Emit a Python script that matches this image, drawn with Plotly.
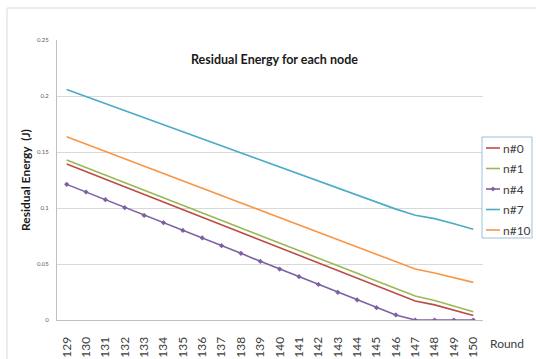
import plotly.graph_objects as go

rounds = [str(r) for r in range(129, 151)]

n0 = [0.1393, 0.1325, 0.1257, 0.1189, 0.1121, 0.1053, 0.0985, 0.0917, 0.0849, 0.0781, 0.0713,
      0.0645, 0.0577, 0.0509, 0.0441, 0.0373, 0.0305, 0.0237, 0.0170, 0.0135, 0.0090, 0.0040]
n1 = [0.1429, 0.1362, 0.1294, 0.1227, 0.1159, 0.1092, 0.1024, 0.0957, 0.0889, 0.0822, 0.0754,
      0.0687, 0.0619, 0.0552, 0.0484, 0.0417, 0.0349, 0.0282, 0.0214, 0.0175, 0.0125, 0.0074]
n4 = [0.1211, 0.1143, 0.1074, 0.1003, 0.0934, 0.0869, 0.0800, 0.0733, 0.0664, 0.0595, 0.0524,
      0.0455, 0.0387, 0.0318, 0.0247, 0.0179, 0.0110, 0.0045, 0.0, 0.0, 0.0, 0.0]
n7 = [0.2057, 0.1994, 0.1931, 0.1868, 0.1806, 0.1743, 0.1680, 0.1617, 0.1555, 0.1492, 0.1429,
      0.1366, 0.1304, 0.1241, 0.1178, 0.1115, 0.1052, 0.0990, 0.0935, 0.0905, 0.0860, 0.0810]
n10 = [0.1637, 0.1571, 0.1506, 0.1440, 0.1374, 0.1309, 0.1243, 0.1177, 0.1112, 0.1046, 0.0980,
       0.0915, 0.0849, 0.0783, 0.0718, 0.0652, 0.0586, 0.0521, 0.0455, 0.0420, 0.0380, 0.0336]

y_ticks = [0, 0.05, 0.1, 0.15, 0.2, 0.25]
y_tick_labels = ["0", "0.05", "0.1", "0.15", "0.2", "0.25"]

series_names = ["n#0", "n#1", "n#4", "n#7", "n#10"]
series_values = [n0, n1, n4, n7, n10]
series_colors = ["#BE4B48", "#98B954", "#7D60A0", "#4BACC6", "#F79646"]
series_markers = [False, False, True, False, False]

# plot area in pixels (for converting legend layout to paper coords)
L, R, T, B = 57, 483, 40, 320
def px(x):
    return (x - L) / (R - L)
def py(y):
    return (B - y) / (B - T)

fig = go.Figure()
for name, vals, color, mk in zip(series_names, series_values, series_colors, series_markers):
    fig.add_trace(go.Scatter(
        x=rounds, y=vals, name=name,
        mode="lines+markers" if mk else "lines",
        line=dict(color=color, width=1.6),
        marker=dict(symbol="diamond", size=4, color=color),
        showlegend=False,
    ))

annotations = [
    dict(text="<b>Residual Energy for each node</b>", xref="paper", yref="paper",
         x=px(274), y=py(60), xanchor="center", yanchor="middle", showarrow=False,
         font=dict(size=12.5, color="#1a1a1a")),
    dict(text="<b>Residual Energy  (J)</b>", xref="paper", yref="paper",
         x=px(25), y=py(180), xanchor="center", yanchor="middle", showarrow=False, textangle=-90,
         font=dict(size=12, color="#1a1a1a")),
    dict(text="Round", xref="paper", yref="paper",
         x=px(507), y=py(343), xanchor="center", yanchor="middle", showarrow=False,
         font=dict(size=12, color="#404040")),
]

shapes = [
    dict(type="rect", xref="paper", yref="paper",
         x0=px(7), y0=py(400), x1=px(560), y1=py(8),
         line=dict(color="#D9D9D9", width=1), layer="below"),
    dict(type="rect", xref="paper", yref="paper",
         x0=px(482), y0=py(238), x1=px(532), y1=py(137),
         line=dict(color="#9DC3D6", width=1), fillcolor="white", layer="above"),
]

legend_y = [148, 168.5, 189, 209.5, 230]
for name, color, mk, ly in zip(series_names, series_colors, series_markers, legend_y):
    shapes.append(dict(type="line", xref="paper", yref="paper",
                       x0=px(486), x1=px(500), y0=py(ly), y1=py(ly),
                       line=dict(color=color, width=1.6), layer="above"))
    if mk:
        shapes.append(dict(type="path", xref="paper", yref="paper",
                           path="M {a},{b} L {c},{d} L {a},{e} L {f},{d} Z".format(
                               a=px(493), b=py(ly - 2.2), c=px(495.2), d=py(ly),
                               e=py(ly + 2.2), f=px(490.8)),
                           fillcolor=color, line=dict(color=color, width=0.5), layer="above"))
    annotations.append(dict(text=name, xref="paper", yref="paper",
                            x=px(501), y=py(ly), xanchor="left", yanchor="middle",
                            showarrow=False, font=dict(size=12, color="#404040")))

fig.update_layout(
    width=536, height=359,
    margin=dict(l=L, r=536 - R, t=T, b=359 - B, autoexpand=False),
    paper_bgcolor="white", plot_bgcolor="white",
    font=dict(family="Lato, Open Sans, sans-serif", color="#404040"),
    showlegend=False,
    xaxis=dict(
        type="category", range=[-0.5, 21.5], automargin=False,
        showgrid=False, showline=True, linecolor="#BFBFBF", linewidth=1,
        tickangle=-90, tickfont=dict(size=12, color="#404040"),
        ticks="", ticklabelstandoff=11, fixedrange=True,
    ),
    yaxis=dict(
        range=[0, 0.25], tickvals=y_ticks, ticktext=y_tick_labels, automargin=False,
        showgrid=True, gridcolor="#D9D9D9", gridwidth=1,
        showline=True, linecolor="#BFBFBF", linewidth=1,
        zeroline=False, tickfont=dict(size=6, color="#606060"),
        ticks="", ticklabelstandoff=6,
    ),
    annotations=annotations,
    shapes=shapes,
)

fig.write_html("out.html")
